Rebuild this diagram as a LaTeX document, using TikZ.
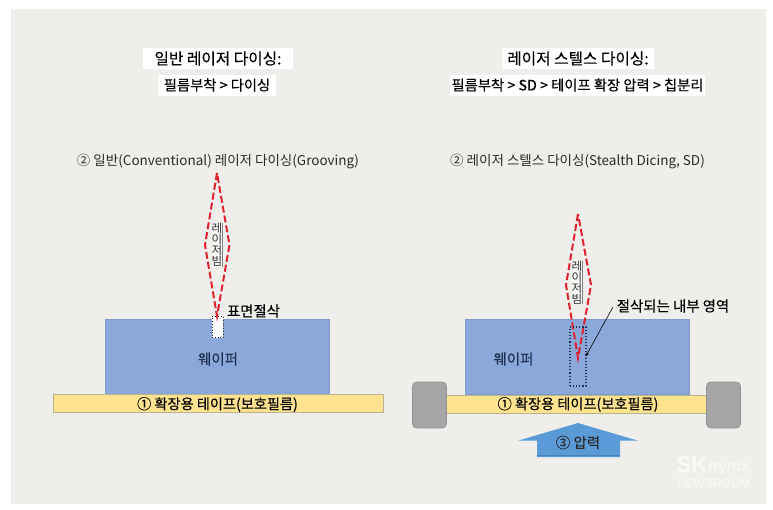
\documentclass[tikz,border=0pt]{standalone}
\usepackage{fontspec}
\setmainfont{Noto Sans CJK KR}
\newfontfamily\medfont[FakeBold=0.25]{Noto Sans CJK KR}
\newfontfamily\wmfont{Liberation Sans}
\definecolor{panelc}{HTML}{F0EEEA}
\definecolor{waferc}{HTML}{8BA8DB}
\definecolor{waferb}{HTML}{7F9CC8}
\definecolor{tapec}{HTML}{FDE28F}
\definecolor{tapeb}{HTML}{B9B48F}
\definecolor{gripc}{HTML}{A5A5A5}
\definecolor{gripb}{HTML}{8F9496}
\definecolor{arrowc}{HTML}{5A9AD6}
\definecolor{arrowd}{HTML}{4A80B4}
\definecolor{beamc}{HTML}{E0222F}
\definecolor{inkc}{HTML}{2B2B2B}
\definecolor{waferink}{HTML}{1F2F4F}
\tikzset{
  x=1pt,y=-1pt,
  every node/.style={inner sep=0pt,outer sep=0pt,text=inkc},
  headbox/.style={fill=white,font=\medfont\fontsize{15.7}{17}\selectfont,text=black},
  subbox/.style={fill=white,font=\medfont\fontsize{14.3}{16}\selectfont,text=black},
  caption/.style={font=\fontsize{13.5}{15}\selectfont,text=inkc},
  waferbox/.style={draw=waferb,line width=.6pt,fill=waferc,minimum width=224pt,minimum height=75pt},
  tapebox/.style={draw=tapeb,line width=.6pt,fill=tapec,minimum height=18pt},
  gripbox/.style={draw=gripb,line width=.6pt,fill=gripc,rounded corners=4pt,minimum width=34pt,minimum height=46pt},
  beamline/.style={draw=beamc,line width=2pt,dash pattern=on 7pt off 3pt},
  beamlabel/.style={fill=panelc!40!white,minimum width=10pt,align=center,font=\fontsize{11.5}{11}\selectfont},
  waferlabel/.style={font=\medfont\fontsize{14.5}{16}\selectfont,text=waferink},
  tapelabel/.style={font=\medfont\fontsize{14.2}{16}\selectfont,text=black},
  sidelabel/.style={font=\medfont\fontsize{14.4}{16}\selectfont,text=black},
  cutbox/.style={draw=waferink,line width=1.1pt,dotted},
}
\begin{document}
\begin{tikzpicture}
\useasboundingbox (0,0) rectangle (773,509);
\fill[white] (0,0) rectangle (773,509);
\fill[panelc] (11,9) rectangle (766,504);
% headings
\node[headbox,minimum width=150pt,minimum height=21pt] (hL) at (218,58.5) {일반 레이저 다이싱:};
\node[subbox,minimum width=118pt,minimum height=21pt] (sL) at (217,85) {필름부착 > 다이싱};
\node[headbox,minimum width=152pt,minimum height=21pt] (hR) at (578,58.5) {레이저 스텔스 다이싱:};
\node[subbox,minimum width=255pt,minimum height=21pt] (sR) at (577.5,85) {필름부착 > SD > 테이프 확장 압력 > 칩분리};
\node[caption] (cL) at (218,161.5) {② 일반(Conventional) 레이저 다이싱(Grooving)};
\node[caption] (cR) at (577.5,161.5) {② 레이저 스텔스 다이싱(Stealth Dicing, SD)};
% left
\node[waferbox] (wL) at (217.5,357) {};
\node[tapebox,minimum width=329.5pt] (tL) at (218.2,403.2) {};
\node[tapelabel] at (217.5,404.5) {① 확장용 테이프(보호필름)};
\node[waferlabel] at (218,359) {웨이퍼};
\node[draw=inkc,line width=.8pt,dotted,fill=white,minimum width=11pt,minimum height=21pt] (gL) at (217.5,327) {};
\coordinate (tipL) at (217,173);
\coordinate (bL1) at (205,245);
\coordinate (bL2) at (229.5,245);
\draw[beamline] (tipL) -- (bL1) -- (217,316) -- (bL2) -- cycle;
\node[beamlabel] (lL) at (217,245) {레\\이\\저\\빔};
\draw[gray,line width=.5pt] (lL.north east) -- (lL.south east);
\node[sidelabel] (sc) at (253.5,311) {표면절삭};
% right
\node[waferbox] (wR) at (577,357) {};
\node[tapebox,minimum width=262pt] (tR) at (577,404) {};
\node[tapelabel] at (578,404.5) {① 확장용 테이프(보호필름)};
\node[gripbox] (g1) at (429.5,405) {};
\node[gripbox] (g2) at (723.5,405) {};
\node[waferlabel] at (513.5,359) {웨이퍼};
\coordinate (tipR) at (578,214);
\draw[beamline] (tipR) -- (566,285) -- (578,358) -- (591,285) -- cycle;
\node[beamlabel] (lR) at (577,282.5) {레\\이\\저\\빔};
\draw[gray,line width=.5pt] (lR.north east) -- (lR.south east);
\node[cutbox,minimum width=16pt,minimum height=59pt] (cut) at (578,356.5) {};
\node[sidelabel] (in) at (673,306) {절삭되는 내부 영역};
\coordinate (inA) at (613,307);
\coordinate (inB) at (587,354);
\draw[black,line width=.6pt] (inA) -- (inB);
\fill[black] (inB) circle (1.5pt);
% arrow
\fill[arrowc] (578,423) -- (638,440.7) -- (620,440.7) -- (620,457) -- (537,457) -- (537,440.7) -- (518,440.7) -- cycle;
\draw[arrowd,line width=.8pt] (537,455) -- (620,455);
\node[font=\medfont\fontsize{14.5}{16}\selectfont,text=inkc] (pr) at (578,442.5) {③ 압력};
% watermark
\node[anchor=west,text=white,font=\wmfont\bfseries\fontsize{23}{24}\selectfont,opacity=.7] (sk) at (676,465) {SK};
\node[anchor=west,text=white,font=\wmfont\bfseries\fontsize{16}{17}\selectfont,opacity=.6] (hy) at (708,467) {hynix};
\node[anchor=west,text=white,font=\wmfont\bfseries\fontsize{12}{13}\selectfont,opacity=.55] (nw) at (677,483) {NEWSROOM};
\end{tikzpicture}
\end{document}
